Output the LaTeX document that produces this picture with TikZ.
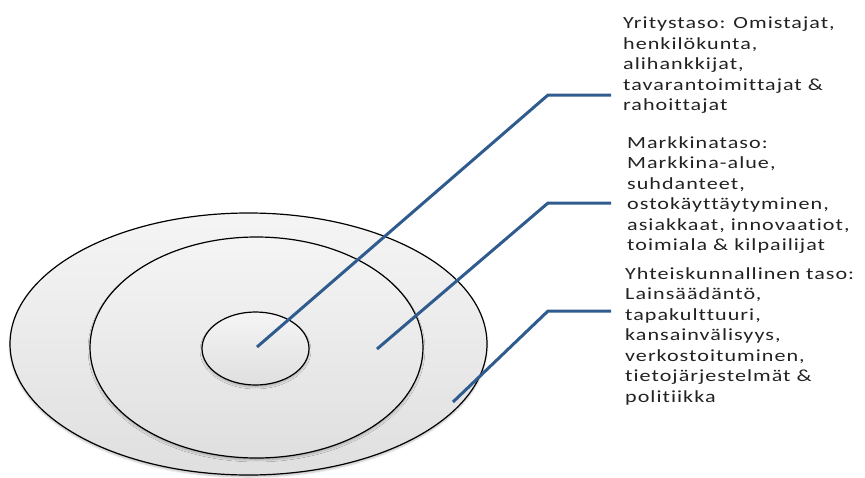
\documentclass[tikz,border=0pt]{standalone}
\usepackage{fontspec}
\setmainfont{Carlito}[Ligatures={NoCommon}, FakeStretch=1.3, LetterSpace=6]
\usetikzlibrary{shapes.geometric,shadows.blur}
\definecolor{leader}{HTML}{2F5B8E}
\definecolor{ink}{HTML}{222222}
\begin{document}
\begin{tikzpicture}[x=1pt,y=-1pt,
  ring/.style={ellipse, draw=black, line width=1.2pt, top color=gray!8, bottom color=gray!25, inner sep=0pt,
    blur shadow={shadow xshift=0pt, shadow yshift=-2pt, shadow blur steps=6, shadow opacity=25}},
  leaderline/.style={draw=leader, line width=3pt},
  levellabel/.style={anchor=north west, align=left, font=\fontsize{17}{20.5}\selectfont, text=ink, inner sep=0pt}]
\useasboundingbox (0,0) rectangle (865,477);

% three nested levels
\node[ring, minimum width=477pt, minimum height=262pt] (outer) at (248.5,344) {};
\node[ring, minimum width=333pt, minimum height=221pt] (middle) at (256.5,347.5) {};
\node[ring, minimum width=107pt, minimum height=73pt] (inner) at (255.5,348.5) {};

% labels
\node[levellabel] (firm) at (623,17) {Yritystaso: Omistajat,\\henkilökunta,\\alihankkijat,\\tavarantoimittajat \&\\rahoittajat};
\node[levellabel] (market) at (627,136) {Markkinataso:\\Markkina-alue,\\suhdanteet,\\ostokäyttäytyminen,\\asiakkaat, innovaatiot,\\toimiala \& kilpailijat};
\node[levellabel] (society) at (625,267) {Yhteiskunnallinen taso:\\Lainsäädäntö,\\tapakulttuuri,\\kansainvälisyys,\\verkostoituminen,\\tietojärjestelmät \&\\politiikka};

% leader lines
\coordinate (p1) at (257,347);
\coordinate (k1) at (548,95);
\coordinate (e1) at (611,95);
\coordinate (p2) at (377,349);
\coordinate (k2) at (548,203);
\coordinate (e2) at (611,203);
\coordinate (p3) at (453,402);
\coordinate (k3) at (548,311);
\coordinate (e3) at (611,311);
\draw[leaderline] (p1) -- (k1) -- (e1);
\draw[leaderline] (p2) -- (k2) -- (e2);
\draw[leaderline] (p3) -- (k3) -- (e3);
\end{tikzpicture}
\end{document}
